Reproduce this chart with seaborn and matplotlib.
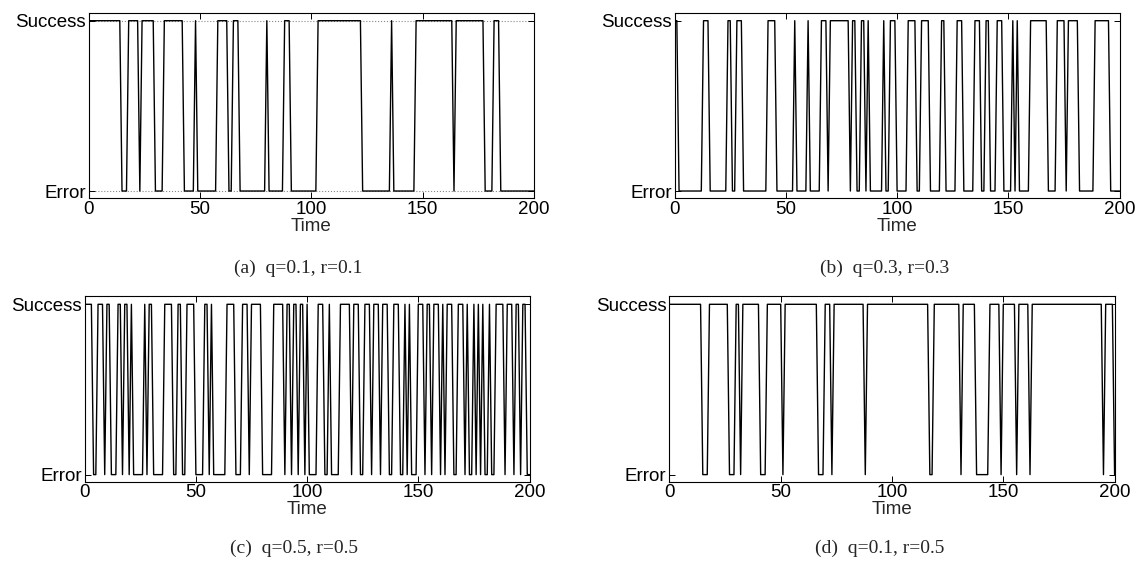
import numpy as np
import pandas as pd
import matplotlib
matplotlib.use("Agg")
import matplotlib.pyplot as plt
import seaborn as sns

# run lengths of the channel state, alternating Success / Error, starting with Success
runs_a = [15, 3, 5, 1, 6, 4, 9, 5, 1, 9, 5, 2, 3, 12, 1, 7, 3, 12, 20, 13, 1, 10, 17, 1, 13, 4, 3, 16]
runs_b = [2, 11, 3, 8, 2, 2, 3, 11, 4, 8, 1, 5, 1, 5, 3, 1, 9, 1, 2, 2, 2, 1, 1, 6, 1, 2, 3, 5, 4, 2,
          4, 5, 2, 5, 3, 5, 3, 2, 2, 3, 3, 4, 1, 1, 1, 5, 8, 4, 4, 1, 5, 7, 7, 5]
runs_c = [4, 2, 3, 1, 2, 3, 2, 1, 2, 1, 1, 5, 1, 1, 2, 5, 4, 2, 2, 2, 4, 4, 2, 1, 1, 6, 4, 3, 3, 1,
          5, 5, 5, 1, 2, 1, 2, 1, 2, 1, 1, 4, 3, 2, 1, 4, 5, 1, 3, 2, 3, 1, 3, 1, 3, 2, 3, 2, 1, 1,
          1, 3, 3, 1, 2, 1, 3, 1, 1, 1, 3, 2, 3, 1, 1, 2, 1, 1, 1, 1, 1, 2, 1, 2, 4, 1, 3, 1, 2, 1,
          2, 2]
runs_d = [15, 3, 9, 3, 2, 1, 8, 3, 7, 1, 15, 3, 3, 1, 14, 1, 28, 2, 12, 1, 6, 6, 5, 1, 6, 1, 5, 1,
          32, 1, 4, 1]

captions = ['(a)  q=0.1, r=0.1', '(b)  q=0.3, r=0.3', '(c)  q=0.5, r=0.5', '(d)  q=0.1, r=0.5']
xticks = [0, 50, 100, 150, 200]
ylabels = ['Error', 'Success']

sns.set_theme(style="ticks")
plt.rcParams['font.family'] = ['Liberation Sans', 'DejaVu Sans']

W, H = 1140, 561
fig = plt.figure(figsize=(W / 100, H / 100), dpi=100)

# axes boxes in pixels: left, top, right, bottom
boxes = [(88.6, 12.7, 534.2, 198.0), (674.6, 12.7, 1119.6, 198.0),
         (84.7, 296.3, 529.5, 481.6), (669.4, 296.3, 1114.6, 481.6)]
cap_pos = [(298, 268), (885, 268), (294, 548), (880, 548)]

for i, runs in enumerate([runs_a, runs_b, runs_c, runs_d]):
    l, t, r, b = boxes[i]
    ax = fig.add_axes([l / W, 1 - b / H, (r - l) / W, (b - t) / H])
    states = (np.arange(len(runs)) + 1) % 2
    vals = np.repeat(states, runs)
    df = pd.DataFrame({'Time': np.arange(len(vals)), 'State': vals})
    sns.lineplot(data=df, x='Time', y='State', ax=ax, color='black', linewidth=1.0)

    ax.set_xlim(0, 200)
    ax.set_ylim(-0.041, 1.047)
    ax.set_xticks(xticks)
    ax.set_yticks([0, 1])
    ax.set_yticklabels(ylabels)
    ax.set_ylabel('')
    ax.set_xlabel('Time', fontsize=13.5, labelpad=0)
    ax.tick_params(direction='in', top=True, right=True, length=4, width=0.7,
                   labelsize=13.5, pad=2, colors='black')
    for s in ax.spines.values():
        s.set_color('black')
        s.set_linewidth(0.8)
    if i == 0:
        ax.grid(axis='y', linestyle=':', color='#888888', linewidth=0.8)
        ax.set_axisbelow(True)

    fig.text(cap_pos[i][0] / W, 1 - cap_pos[i][1] / H, captions[i], ha='center', va='center',
             family=['Liberation Serif', 'DejaVu Serif'], fontsize=14)

fig.savefig('out.png', dpi=100)
